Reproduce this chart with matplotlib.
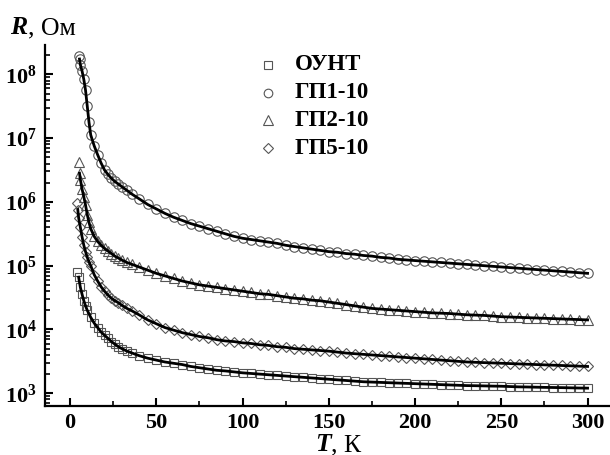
import matplotlib
matplotlib.use("Agg")
import matplotlib.pyplot as plt
import numpy as np
from matplotlib.lines import Line2D
from matplotlib.ticker import FixedLocator, FuncFormatter, LogLocator, NullFormatter

plt.rcParams['font.family'] = ['Liberation Serif', 'DejaVu Serif']
plt.rcParams['mathtext.fontset'] = 'custom'
plt.rcParams['mathtext.rm'] = 'Liberation Serif'
plt.rcParams['mathtext.bf'] = 'Liberation Serif:bold'
plt.rcParams['mathtext.it'] = 'Liberation Serif:italic'

labels = ['ОУНТ', 'ГП1-10', 'ГП2-10', 'ГП5-10']

T_hi = [45, 50, 55, 60, 65, 70, 75, 80, 85, 90, 95, 100, 105, 110, 115, 120, 125, 130,
        135, 140, 145, 150, 155, 160, 165, 170, 175, 180, 185, 190, 195, 200, 205, 210,
        215, 220, 225, 230, 235, 240, 245, 250, 255, 260, 265, 270, 275, 280, 285, 290,
        295, 300]

# ОУНТ (squares), log10(R/Ом)
T_ount = [4, 5, 6, 7, 8, 9, 10, 12, 14, 16, 18, 20, 22, 24, 26, 28, 30, 33, 36, 40] + T_hi
lgR_ount = [4.90, 4.82, 4.66, 4.55, 4.45, 4.37, 4.30, 4.19, 4.10, 4.03, 3.96, 3.91, 3.86,
            3.81, 3.77, 3.73, 3.70, 3.66, 3.63, 3.59,
            3.55, 3.52, 3.49, 3.47, 3.45, 3.42, 3.40, 3.38, 3.36, 3.35, 3.335, 3.32, 3.31,
            3.30, 3.29, 3.28, 3.27, 3.26, 3.25, 3.24, 3.23, 3.22, 3.21, 3.20, 3.19, 3.18,
            3.175, 3.17, 3.165, 3.16, 3.155, 3.15, 3.145, 3.14, 3.135, 3.13, 3.125, 3.12,
            3.118, 3.115, 3.112, 3.11, 3.105, 3.10, 3.098, 3.095, 3.092, 3.09, 3.088,
            3.085, 3.082, 3.08]

# ГП1-10 (circles)
T_gp1 = [5, 5.5, 6, 7, 8, 9, 10, 11, 12, 14, 16, 18, 20, 22, 24, 26, 28, 30, 33, 36, 40] + T_hi
lgR_gp1 = [8.29, 8.24, 8.15, 8.05, 7.92, 7.75, 7.50, 7.25, 7.05, 6.88, 6.74, 6.61, 6.50,
           6.43, 6.37, 6.32, 6.28, 6.24, 6.18, 6.12, 6.05,
           5.96, 5.89, 5.82, 5.76, 5.71, 5.66, 5.62, 5.58, 5.54, 5.50, 5.46, 5.43, 5.41,
           5.39, 5.37, 5.35, 5.32, 5.30, 5.28, 5.26, 5.24, 5.22, 5.21, 5.19, 5.18, 5.16,
           5.15, 5.13, 5.12, 5.10, 5.09, 5.08, 5.07, 5.06, 5.05, 5.04, 5.03, 5.02, 5.01,
           5.00, 4.99, 4.98, 4.97, 4.96, 4.95, 4.94, 4.93, 4.92, 4.91, 4.90, 4.89, 4.88]

# ГП2-10 (triangles)
T_gp2 = [5, 5.5, 6, 7, 8, 9, 10, 11, 12, 14, 16, 18, 20, 22, 24, 26, 28, 30, 33, 36, 40] + T_hi
lgR_gp2 = [6.62, 6.45, 6.35, 6.20, 6.08, 5.95, 5.80, 5.68, 5.58, 5.46, 5.38, 5.32, 5.27,
           5.23, 5.19, 5.15, 5.12, 5.09, 5.05, 5.02, 4.98,
           4.93, 4.88, 4.84, 4.80, 4.76, 4.73, 4.70, 4.68, 4.66, 4.64, 4.62, 4.60, 4.58,
           4.56, 4.55, 4.53, 4.51, 4.49, 4.48, 4.46, 4.45, 4.43, 4.41, 4.39, 4.37, 4.35,
           4.33, 4.32, 4.31, 4.30, 4.29, 4.28, 4.27, 4.26, 4.255, 4.25, 4.24, 4.23, 4.225,
           4.22, 4.21, 4.20, 4.195, 4.19, 4.185, 4.18, 4.175, 4.17, 4.165, 4.16, 4.155, 4.15]

# ГП5-10 (diamonds)
T_gp5 = [4, 4.5, 5, 6, 7, 8, 9, 10, 11, 12, 14, 16, 18, 20, 22, 24, 26, 28, 30, 33, 36, 40] + T_hi
lgR_gp5 = [5.99, 5.88, 5.75, 5.60, 5.45, 5.32, 5.22, 5.13, 5.06, 5.00, 4.86, 4.76, 4.67,
           4.60, 4.54, 4.49, 4.45, 4.42, 4.38, 4.33, 4.29, 4.23,
           4.15, 4.09, 4.03, 3.99, 3.95, 3.92, 3.89, 3.87, 3.84, 3.82, 3.81, 3.79, 3.78,
           3.76, 3.75, 3.73, 3.72, 3.70, 3.69, 3.68, 3.67, 3.66, 3.645, 3.63, 3.62, 3.61,
           3.60, 3.59, 3.58, 3.57, 3.56, 3.55, 3.54, 3.53, 3.52, 3.51, 3.50, 3.49, 3.485,
           3.48, 3.475, 3.47, 3.465, 3.46, 3.455, 3.45, 3.445, 3.44, 3.435, 3.43, 3.425, 3.42]

x_ticks = [0, 50, 100, 150, 200, 250, 300]
y_tick_exps = [3, 4, 5, 6, 7, 8]

W, H = 610, 455
fig = plt.figure(figsize=(W / 100, H / 100), dpi=100)
ax = fig.add_axes([45 / W, 1 - 406 / H, 1 - 45 / W, (406 - 45) / H])

mec = '#555555'
series = [
    (T_ount, lgR_ount, 's', 6.0),
    (T_gp1, lgR_gp1, 'o', 6.8),
    (T_gp2, lgR_gp2, '^', 7.0),
    (T_gp5, lgR_gp5, 'D', 5.6),
]
for T, lg, m, ms in series:
    R = 10 ** np.array(lg)
    ax.plot(T, R, linestyle='none', marker=m, ms=ms, mfc='none', mec=mec, mew=0.8, zorder=2)
    ax.plot(T[1:], R[1:], color='black', lw=2.0, zorder=3)

ax.set_yscale('log')
ax.set_xlim(-14.5, 313)
ax.set_ylim(10 ** 2.80, 10 ** 8.46)

ax.xaxis.set_major_locator(FixedLocator(x_ticks))
ax.xaxis.set_minor_locator(FixedLocator([25, 75, 125, 175, 225, 275]))
ax.yaxis.set_major_locator(FixedLocator([10 ** e for e in y_tick_exps]))
ax.yaxis.set_minor_locator(LogLocator(base=10, subs=np.arange(2, 10)))
ax.yaxis.set_minor_formatter(NullFormatter())
ax.yaxis.set_major_formatter(FuncFormatter(lambda v, p: r'$\mathbf{10^{%d}}$' % round(np.log10(v))))
ax.xaxis.set_major_formatter(FuncFormatter(lambda v, p: '%d' % v))

for s in ['top', 'right']:
    ax.spines[s].set_visible(False)
for s in ['left', 'bottom']:
    ax.spines[s].set_linewidth(1.6)

ax.tick_params(which='major', direction='in', length=6, width=1.5, labelsize=16, pad=5)
ax.tick_params(axis='y', which='major', pad=6)
ax.tick_params(which='minor', direction='in', length=3.5, width=1.2)
ax.tick_params(axis='y', which='both', right=False)
ax.tick_params(axis='x', which='both', top=False)
for lab in ax.get_xticklabels():
    lab.set_fontweight('bold')

# Axis titles
renderer = fig.canvas.get_renderer()
t1 = fig.text(10 / W, 1 - 34 / H, 'R', fontsize=18.5, fontweight='bold', fontstyle='italic',
              va='baseline', ha='left')
bb = t1.get_window_extent(renderer)
fig.text((bb.x1 + 0.5) / W, 1 - 34 / H, ', Ом', fontsize=18.5, va='baseline', ha='left')
t2 = fig.text(315 / W, 1 - 451 / H, 'T', fontsize=18.5, fontweight='bold', fontstyle='italic',
              va='baseline', ha='left')
bb = t2.get_window_extent(renderer)
fig.text((bb.x1 + 0.5) / W, 1 - 451 / H, ', К', fontsize=18.5, va='baseline', ha='left')

# Legend
leg_markers = ['s', 'o', '^', 'D']
leg_ms = [5.6, 6.2, 6.6, 5.2]
leg_y = [65, 93, 120, 148]
for lab, m, ms, yy in zip(labels, leg_markers, leg_ms, leg_y):
    fig.add_artist(Line2D([268 / W], [1 - yy / H], marker=m, ms=ms, mfc='none', mec=mec,
                          mew=0.8, linestyle='none', transform=fig.transFigure))
    fig.text(295 / W, 1 - yy / H, lab, fontsize=16.5, fontweight='bold', va='center', ha='left')

fig.savefig('out.png', dpi=100)
